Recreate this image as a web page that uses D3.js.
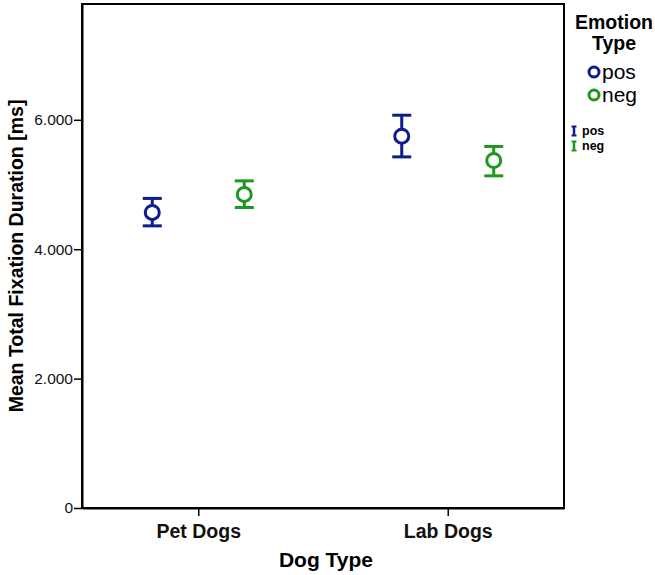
<!DOCTYPE html>
<html>
<head>
<meta charset="utf-8">
<style>
  body { margin: 0; background: #fff; }
  svg { font-family: "Liberation Sans", Arial, sans-serif; }
</style>
</head>
<body>
<svg width="655" height="575"></svg>
<script src="https://d3js.org/d3.v7.min.js"></script>
<script>

// data (ms)
var dogTypes = ["Pet Dogs", "Lab Dogs"];
var emotions = ["pos", "neg"];
var emotionColors = ["#0f1c8a", "#1f961f"];
var means = [[4568, 4846], [5747, 5371]];      // [dogType][emotion]
var lowers = [[4361, 4645], [5427, 5134]];
var uppers = [[4785, 5056], [6071, 5588]];
var yTicks = [0, 2000, 4000, 6000];

var svg = d3.select("svg");
var margin = {left: 82, right: 91, top: 4, bottom: 67};
var width = 655 - margin.left - margin.right,
    height = 575 - margin.top - margin.bottom;

var loc = d3.formatLocale({decimal: ",", thousands: ".", grouping: [3], currency: ["", ""]});
var fmt = loc.format(",d");

var x = d3.scalePoint().domain(dogTypes).range([0, width]).padding(0.466);
var sub = d3.scalePoint().domain(emotions).range([-46, 46]);
var y = d3.scaleLinear().domain([0, 7790]).range([height, 0]);
var color = d3.scaleOrdinal().domain(emotions).range(emotionColors);

var g = svg.append("g").attr("transform", "translate(" + margin.left + "," + margin.top + ")");

// frame
g.append("rect")
  .attr("width", width).attr("height", height)
  .attr("fill", "none").attr("stroke", "#000").attr("stroke-width", 2);

var yAxis = g.append("g")
  .call(d3.axisLeft(y).tickValues(yTicks).tickFormat(fmt).tickSize(8).tickSizeOuter(0));
yAxis.select(".domain").attr("stroke-width", 2);
yAxis.selectAll(".tick line").attr("stroke-width", 1.5);
yAxis.selectAll("text").attr("font-size", 15.5).attr("fill", "#111").attr("x", -9)
  .attr("font-family", "Liberation Sans, Arial, sans-serif");

var xAxis = g.append("g").attr("transform", "translate(0," + height + ")")
  .call(d3.axisBottom(x).tickSize(8).tickSizeOuter(0));
xAxis.select(".domain").attr("stroke-width", 2);
xAxis.selectAll(".tick line").attr("stroke-width", 1.5);
xAxis.selectAll("text").attr("font-size", 19.5).attr("font-weight", "bold").attr("fill", "#111")
  .attr("y", 30).attr("dy", null).attr("font-family", "Liberation Sans, Arial, sans-serif");

// axis titles
svg.append("text")
  .attr("transform", "translate(16," + (margin.top + height / 2) + ") rotate(-90)")
  .attr("text-anchor", "middle").attr("dy", "0.35em")
  .attr("font-size", 19.5).attr("font-weight", "bold")
  .text("Mean Total Fixation Duration [ms]");
svg.append("text")
  .attr("x", margin.left + width / 2 + 3).attr("y", 567)
  .attr("text-anchor", "middle")
  .attr("font-size", 21).attr("font-weight", "bold")
  .text("Dog Type");

// points + error bars
var rows = [];
dogTypes.forEach(function(d, i) {
  emotions.forEach(function(e, j) {
    rows.push({dog: d, emo: e, mean: means[i][j], lo: lowers[i][j], hi: uppers[i][j]});
  });
});

var pts = g.selectAll(".pt").data(rows).enter().append("g")
  .attr("class", "pt")
  .attr("transform", function(d) { return "translate(" + (x(d.dog) + sub(d.emo)) + ",0)"; });

pts.append("line")
  .attr("y1", function(d) { return y(d.lo); })
  .attr("y2", function(d) { return y(d.hi); })
  .attr("stroke", function(d) { return color(d.emo); }).attr("stroke-width", 3);
pts.selectAll(".cap").data(function(d) { return [[d.lo, d.emo], [d.hi, d.emo]]; })
  .enter().append("line")
  .attr("x1", -9.5).attr("x2", 9.5)
  .attr("y1", function(d) { return y(d[0]); })
  .attr("y2", function(d) { return y(d[0]); })
  .attr("stroke", function(d) { return color(d[1]); }).attr("stroke-width", 3);
pts.append("circle")
  .attr("cy", function(d) { return y(d.mean); })
  .attr("r", 7)
  .attr("fill", "#fff")
  .attr("stroke", function(d) { return color(d.emo); }).attr("stroke-width", 3);

// legend
var lg = svg.append("g");
lg.append("text").attr("x", 614).attr("y", 29).attr("text-anchor", "middle")
  .attr("font-size", 19.5).attr("font-weight", "bold").text("Emotion");
lg.append("text").attr("x", 614).attr("y", 50).attr("text-anchor", "middle")
  .attr("font-size", 19.5).attr("font-weight", "bold").text("Type");

var li = lg.selectAll(".li").data(emotions).enter().append("g")
  .attr("transform", function(d, i) { return "translate(594," + (72 + i * 23) + ")"; });
li.append("circle").attr("r", 5).attr("fill", "none")
  .attr("stroke", function(d) { return color(d); }).attr("stroke-width", 3);
li.append("text").attr("x", 8).attr("dy", "0.33em").attr("font-size", 21).text(function(d) { return d; });

var lb = lg.selectAll(".lb").data(emotions).enter().append("g")
  .attr("transform", function(d, i) { return "translate(574," + (131 + i * 15) + ")"; });
lb.append("line").attr("y1", -4.5).attr("y2", 4.5)
  .attr("stroke", function(d) { return color(d); }).attr("stroke-width", 2.5);
lb.selectAll(".c").data(function(d) { return [[-4.5, d], [4.5, d]]; }).enter().append("line")
  .attr("x1", -2.5).attr("x2", 2.5)
  .attr("y1", function(d) { return d[0]; }).attr("y2", function(d) { return d[0]; })
  .attr("stroke", function(d) { return color(d[1]); }).attr("stroke-width", 2);
lb.append("text").attr("x", 8).attr("dy", "0.35em").attr("font-size", 12.5).attr("font-weight", "bold")
  .text(function(d) { return d; });

</script>
</body>
</html>
